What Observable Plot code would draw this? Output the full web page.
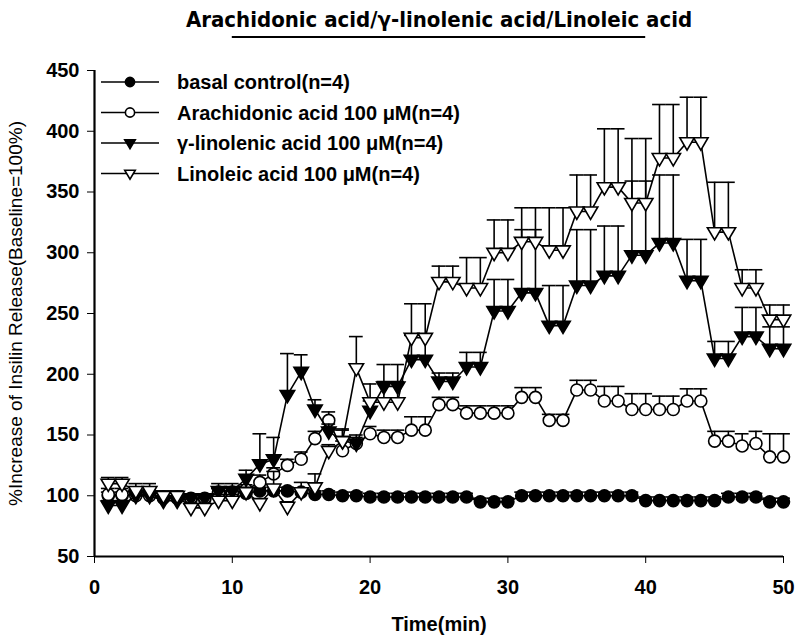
<!DOCTYPE html>
<html><head><meta charset="utf-8">
<script src="https://cdn.jsdelivr.net/npm/d3@7"></script>
<script src="https://cdn.jsdelivr.net/npm/@observablehq/plot@0.6"></script>
<style>
body{margin:0;background:#fff;}
#chart{width:799px;height:643px;}
</style></head><body><div id="chart"></div>
<script>
// ---------- data ----------
const time = [1,2,3,4,5,6,7,8,9,10,11,12,13,14,15,16,17,18,19,20,21,22,23,24,25,26,27,28,29,30,31,32,33,34,35,36,37,38,39,40,41,42,43,44,45,46,47,48,49,50];

const basal    = [100,100,101,101,99,99,97,97,103,103,102,104,104,104,103,101,101,100,100,99,99,99,99,99,99,99,99,95,95,95,100,100,100,100,100,100,100,100,100,96,96,96,96,96,96,99,99,99,95,95];
const basalErr = [3,3,3,3,3,3,3,3,3,3,3,3,3,3,3,3,3,3,3,3,3,3,3,3,3,3,3,3,3,3,3,3,3,3,3,3,3,3,3,3,3,3,3,3,3,3,3,3,3,3];

const arachidonic    = [101,101,100,100,98,98,98,98,102,102,105,111,118,125,130,147,162,137,143,151,148,148,154,154,175,175,168,168,168,168,181,181,162,162,187,187,178,178,171,171,171,171,178,178,145,145,141,143,132,132];
const arachidonicErr = [5,5,4,4,4,4,3,3,4,4,4,6,5,5,6,6,7,8,7,6,6,6,11,11,6,6,6,6,6,6,8,8,5,5,8,8,12,12,13,13,11,11,10,10,8,8,10,10,19,19];

const gammaLinolenic    = [92,92,100,100,96,96,98,98,104,104,114,126,130,183,202,171,153,145,143,170,190,190,212,212,194,194,206,206,252,252,267,267,240,240,273,273,281,281,298,298,308,308,277,277,213,213,231,231,221,221];
const gammaLinolenicErr = [4,4,5,5,4,4,3,3,6,6,7,25,18,34,14,8,6,9,5,8,18,18,20,20,7,7,12,12,26,26,52,52,33,33,46,46,41,41,61,61,56,56,34,34,14,14,24,24,18,18];

const linoleic    = [110,110,104,104,100,100,90,90,96,96,103,94,106,91,103,107,137,145,205,177,177,177,230,230,276,276,271,271,300,300,309,309,302,302,334,334,354,354,341,341,378,378,391,391,317,317,271,271,245,245];
const linoleicErr = [5,5,6,6,4,4,3,3,5,5,4,3,14,4,8,11,5,10,26,15,17,17,28,28,13,13,25,25,27,27,28,28,35,35,30,30,48,48,53,53,44,44,37,37,41,41,15,15,12,12];

const seriesNames = ["basal control(n=4)", "Arachidonic acid 100 \u03BCM(n=4)", "\u03B3-linolenic acid 100 \u03BCM(n=4)", "Linoleic acid 100 \u03BCM(n=4)"];
const xTicks = [0,10,20,30,40,50];
const yTicks = [50,100,150,200,250,300,350,400,450];
const treatment = [10, 40];
const titleText = "Arachidonic acid/\u03B3-linolenic acid/Linoleic acid";
const xLabel = "Time(min)";
const yLabel = "%Increase of Insilin Release(Baseline=100%)";

// ---------- styling ----------
const triDown = {
  draw(ctx, size) {
    const r = Math.sqrt(size / Math.PI);
    ctx.moveTo(-1.15 * r, -0.7 * r);
    ctx.lineTo(1.15 * r, -0.7 * r);
    ctx.lineTo(0, 1.25 * r);
    ctx.closePath();
  }
};
const styles = [
  {symbol: "circle", fill: "black", r: 6},
  {symbol: "circle", fill: "white", r: 6},
  {symbol: triDown, fill: "black", r: 6.3},
  {symbol: triDown, fill: "white", r: 6.3}
];
const values = [basal, arachidonic, gammaLinolenic, linoleic];
const errors = [basalErr, arachidonicErr, gammaLinolenicErr, linoleicErr];

const rowsFor = k => time.map((t, i) => ({key: seriesNames[k], t, v: values[k][i], e: errors[k][i]}));
const capHalf = 0.5;

const marks = [];
for (let k = 0; k < 4; k++) {
  const rows = rowsFor(k);
  const st = styles[k];
  marks.push(
    Plot.line(rows, {x: "t", y: "v", stroke: "black", strokeWidth: 1.6}),
    Plot.ruleX(rows, {x: "t", y1: "v", y2: d => d.v + d.e, stroke: "black", strokeWidth: 1.6}),
    Plot.ruleY(rows, {y: d => d.v + d.e, x1: d => d.t - capHalf, x2: d => d.t + capHalf, stroke: "black", strokeWidth: 1.6}),
    Plot.dot(rows, {x: "t", y: "v", symbol: () => st.symbol, r: st.r, fill: st.fill, stroke: "black", strokeWidth: 1.6})
  );
}

const plot = Plot.plot({
  width: 799,
  height: 643,
  marginLeft: 94,
  marginRight: 16,
  marginTop: 70,
  marginBottom: 87,
  style: {fontFamily: "'Liberation Sans', Arial, sans-serif", fontSize: "20px", fontWeight: "bold", color: "black", background: "white", overflow: "visible"},
  symbol: {type: "identity"},
  x: {domain: [0, 50], ticks: xTicks, tickSize: 7, tickPadding: 16, label: null},
  y: {domain: [50, 450], ticks: yTicks, tickSize: 7, tickPadding: 8, label: null},
  marks: [
    Plot.ruleX([0], {y1: 50, y2: 450, stroke: "black", strokeWidth: 2.2}),
    Plot.ruleY([50], {x1: 0, x2: 50, stroke: "black", strokeWidth: 2.2}),
    ...marks,
    Plot.text([titleText], {frameAnchor: "top", dy: -59, fontSize: 22, fontWeight: "bold", fontFamily: "'Liberation Sans Narrow', 'DejaVu Sans Condensed', sans-serif"}),
    Plot.text([xLabel], {frameAnchor: "bottom", dy: 74, fontSize: 20, fontWeight: "bold"}),
    Plot.text([yLabel], {frameAnchor: "left", textAnchor: "middle", dx: -79, rotate: -90, fontSize: 19, fontWeight: "normal"})
  ]
});

// treatment-period bar under the title, placed with the x scale
const xs = plot.scale("x");
const svg = d3.select(plot);
svg.append("line")
  .attr("x1", xs.apply(treatment[0])).attr("x2", xs.apply(treatment[1]))
  .attr("y1", 37).attr("y2", 37)
  .attr("stroke", "black").attr("stroke-width", 2);

// legend
const lg = svg.append("g").attr("transform", "translate(101,82)");
seriesNames.forEach((name, k) => {
  const g = lg.append("g").attr("transform", `translate(0,${k * 30.5})`);
  g.append("line").attr("x1", 0).attr("x2", 58).attr("y1", 0).attr("y2", 0).attr("stroke", "black").attr("stroke-width", 1.6);
  const st = styles[k];
  const type = st.symbol === "circle" ? d3.symbolCircle : st.symbol;
  g.append("path").attr("transform", "translate(29,0)")
    .attr("d", d3.symbol(type, Math.PI * 4.6 * 4.6)())
    .attr("fill", st.fill).attr("stroke", "black").attr("stroke-width", 1.6);
  g.append("text").attr("x", 76).attr("y", 0).attr("dy", "0.35em").attr("text-anchor", "start")
    .attr("font-size", 20).attr("font-weight", "bold").attr("fill", "black").text(name);
});

document.getElementById("chart").appendChild(plot);
</script>
</body></html>
